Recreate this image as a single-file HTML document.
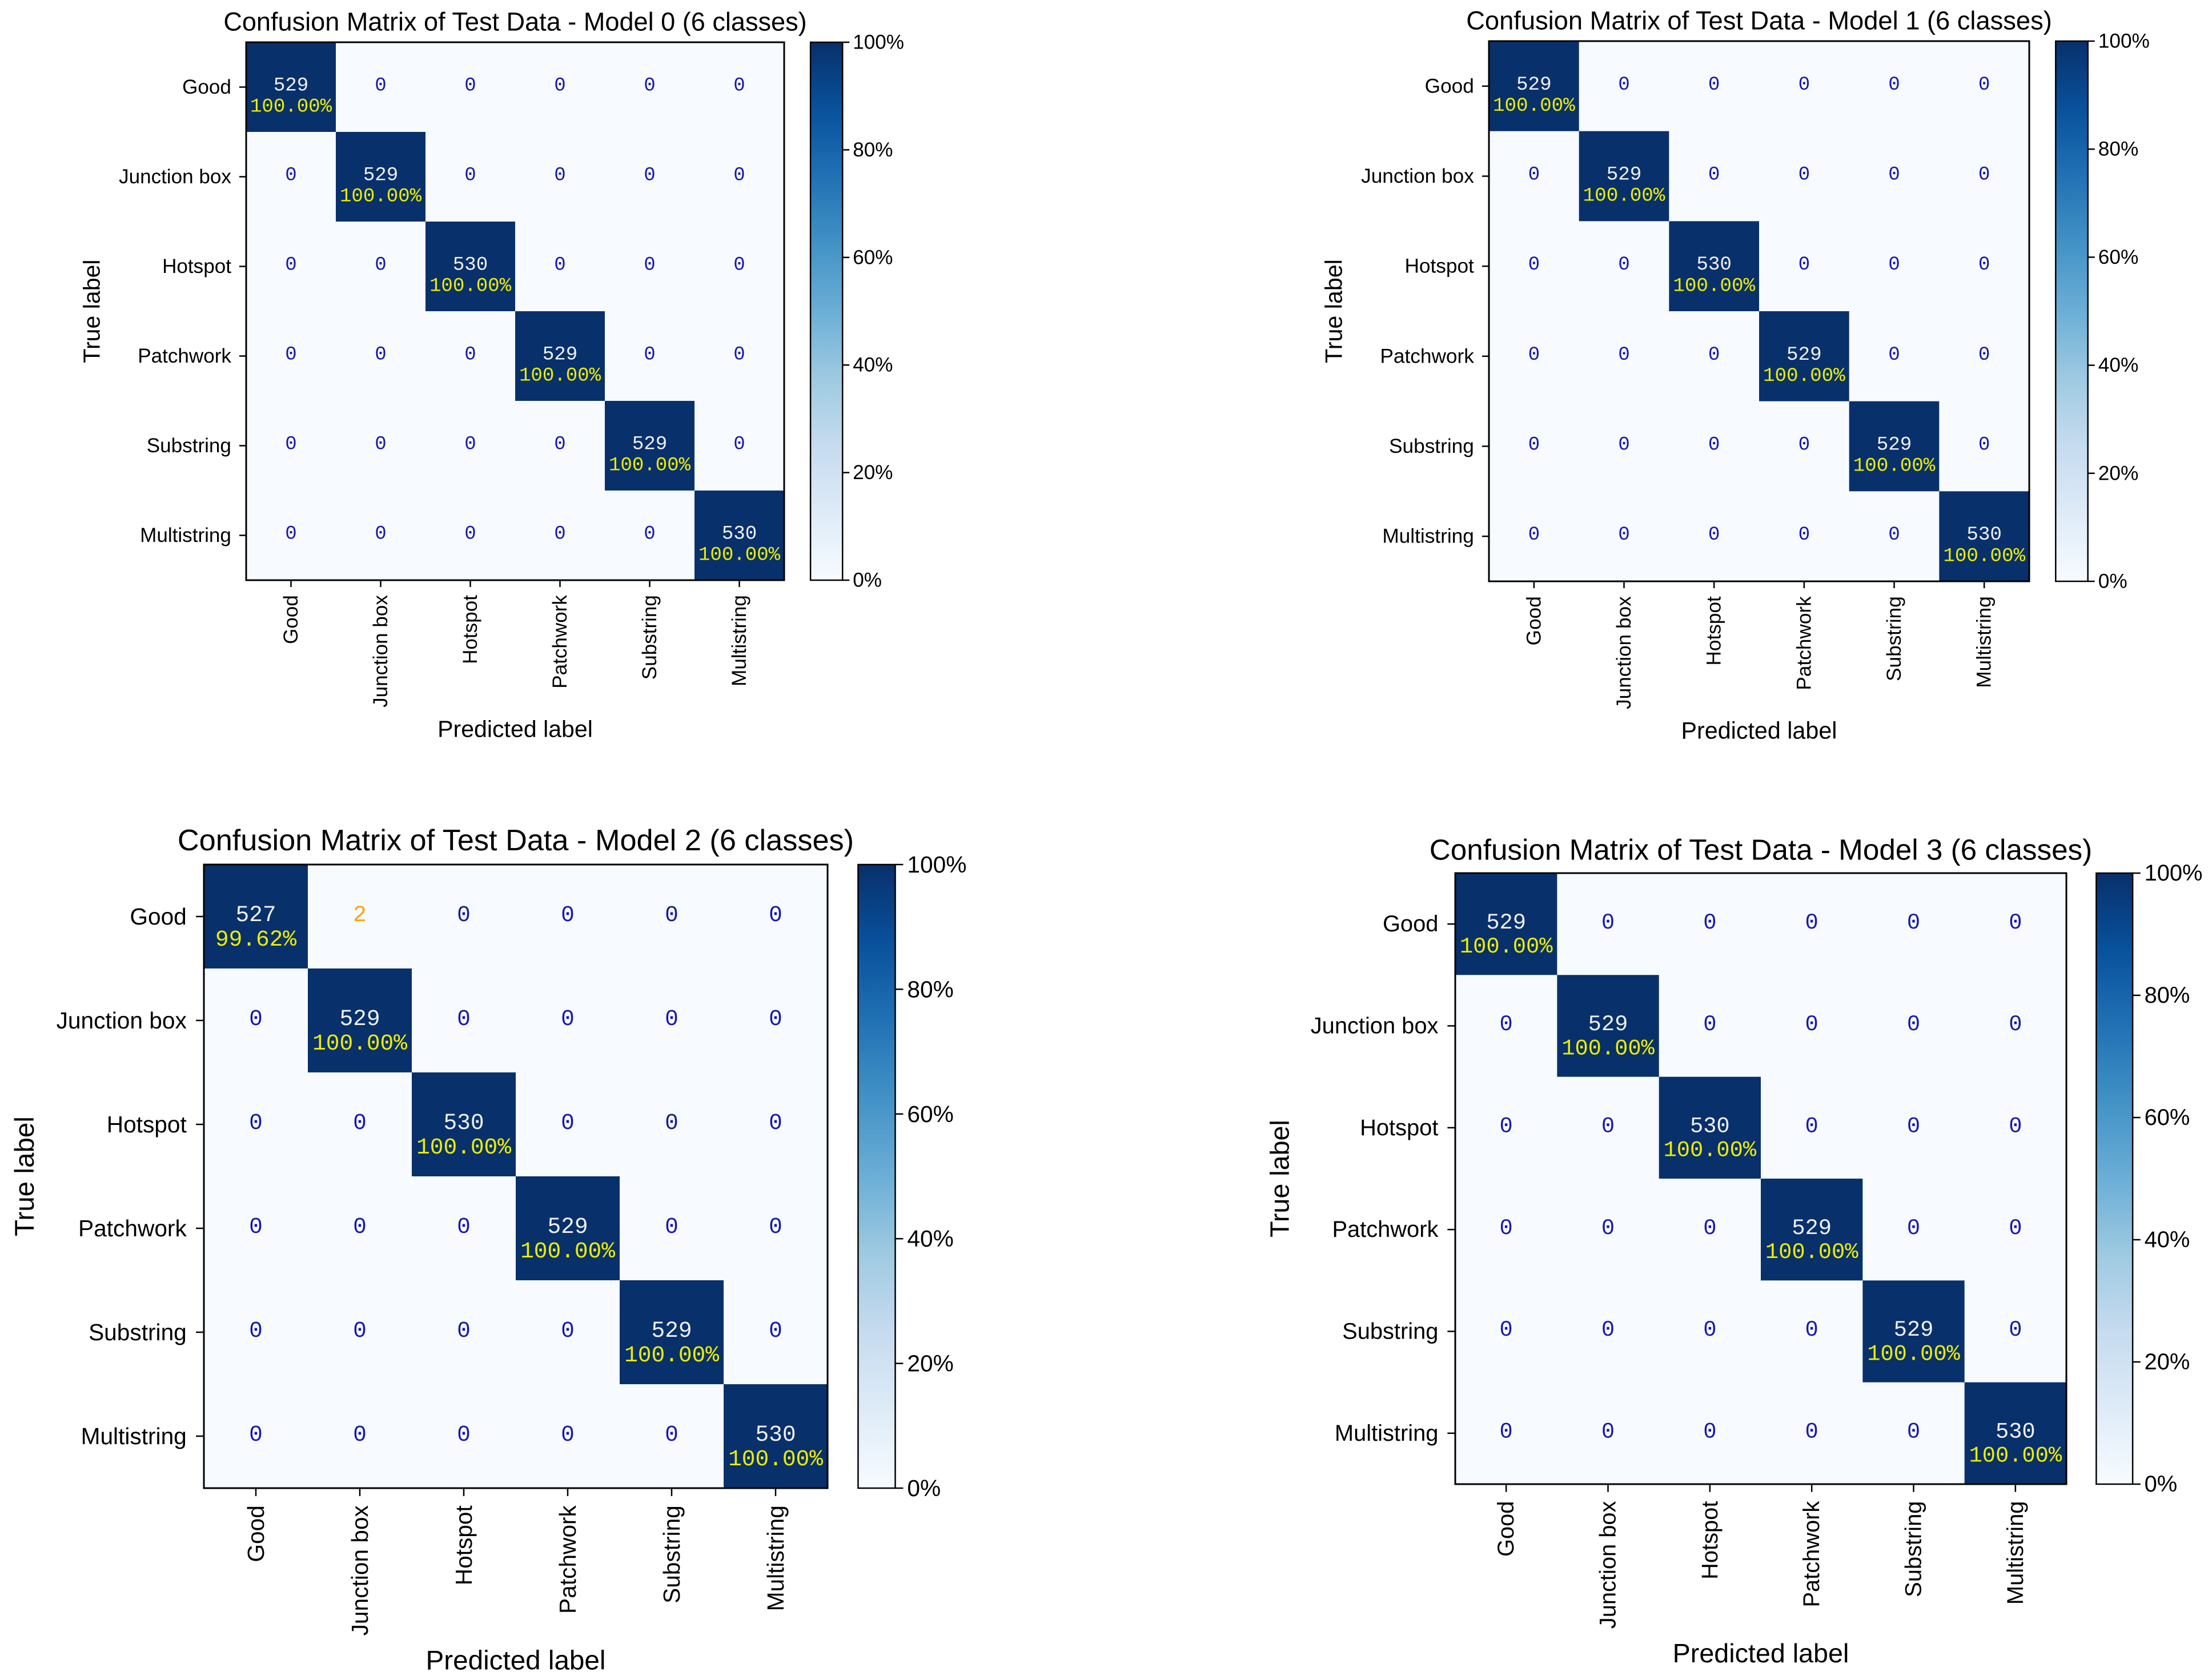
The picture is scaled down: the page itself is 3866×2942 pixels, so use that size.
<!DOCTYPE html>
<html><head><meta charset="utf-8">
<style>
html,body{margin:0;padding:0;background:#fff;}
svg{display:block;}
text{font-family:"Liberation Sans",sans-serif;}
.mono{font-family:"Liberation Mono",monospace;}
</style></head>
<body>
<svg id="fig" width="3866" height="2942" viewBox="0 0 3866 2942" xmlns="http://www.w3.org/2000/svg">
<defs>
<linearGradient id="blues" x1="0" y1="1" x2="0" y2="0">
<stop offset="0" stop-color="#f7fbff"/><stop offset="0.125" stop-color="#deebf7"/><stop offset="0.25" stop-color="#c6dbef"/><stop offset="0.375" stop-color="#9ecae1"/><stop offset="0.5" stop-color="#6baed6"/><stop offset="0.625" stop-color="#4292c6"/><stop offset="0.75" stop-color="#2171b5"/><stop offset="0.875" stop-color="#08519c"/><stop offset="1" stop-color="#08306b"/>
</linearGradient>
</defs>
</svg>
<script>
const classes = ["Good","Junction box","Hotspot","Patchwork","Substring","Multistring"];
const model0 = [[529,0,0,0,0,0],[0,529,0,0,0,0],[0,0,530,0,0,0],[0,0,0,529,0,0],[0,0,0,0,529,0],[0,0,0,0,0,530]];
const model1 = [[529,0,0,0,0,0],[0,529,0,0,0,0],[0,0,530,0,0,0],[0,0,0,529,0,0],[0,0,0,0,529,0],[0,0,0,0,0,530]];
const model2 = [[527,2,0,0,0,0],[0,529,0,0,0,0],[0,0,530,0,0,0],[0,0,0,529,0,0],[0,0,0,0,529,0],[0,0,0,0,0,530]];
const model3 = [[529,0,0,0,0,0],[0,529,0,0,0,0],[0,0,530,0,0,0],[0,0,0,529,0,0],[0,0,0,0,529,0],[0,0,0,0,0,530]];
const modelTitles = ["Confusion Matrix of Test Data - Model 0 (6 classes)","Confusion Matrix of Test Data - Model 1 (6 classes)","Confusion Matrix of Test Data - Model 2 (6 classes)","Confusion Matrix of Test Data - Model 3 (6 classes)"];
const cbTicks = [0,20,40,60,80,100];

const NS="http://www.w3.org/2000/svg";
const svg=document.getElementById('fig');
function mk(tag,attrs,parent,txt){const e=document.createElementNS(NS,tag);for(const k in attrs)e.setAttribute(k,attrs[k]);if(txt!==undefined)e.textContent=txt;parent.appendChild(e);return e;}

const panels=[
 {m:model0,L:431,T:74,S:942},
 {m:model1,L:2607,T:72,S:946},
 {m:model2,L:357,T:1514,S:1092},
 {m:model3,L:2548,T:1529,S:1070}
];

panels.forEach((p,pi)=>{
 const s=p.S/940;
 const g=mk('g',{},svg);
 
 
 const n=classes.length, cw=p.S/n;
 const xs=i=>p.L+(i+0.5)*cw, ys=i=>p.T+(i+0.5)*cw;
 const maxv=Math.max(...p.m.flat());
 const fT=45*s, fTick=35*s, fLab=41*s, fAnn=34*s;
 const t=mk('text',{x:p.L+p.S/2,y:p.T-36*s,'font-size':fT,'text-anchor':'middle','dominant-baseline':'central',fill:'#000'},g,modelTitles[pi]);
 
 
 p.m.forEach((row,r)=>{
  const rs=row.reduce((a,b)=>a+b,0);
  row.forEach((v,c)=>{
   const frac=v/maxv;
   const dark=frac>0.5;
   const rect=mk('rect',{x:xs(c)-cw/2,y:ys(r)-cw/2,width:cw+0.5,height:cw+0.5,fill:dark?'#08306b':'#f7fbff'},g);
   
   
   if(r===c){
    const a=mk('text',{x:xs(c),y:ys(r)-2*s,'font-size':fAnn,'text-anchor':'middle','dominant-baseline':'central',fill:'#f0f0f0',class:'mono'},g,String(v));
    
    
    const b=mk('text',{x:xs(c),y:ys(r)+35*s,'font-size':fAnn,'text-anchor':'middle','dominant-baseline':'central',fill:'#eded00',class:'mono'},g,(v/rs*100).toFixed(2)+'%');
    
    
   } else {
    const a=mk('text',{x:xs(c),y:ys(r)-2*s,'font-size':fAnn,'text-anchor':'middle','dominant-baseline':'central',fill:v>0?'#ffa500':'#1818a8',class:'mono'},g,String(v));
    
    
   }
  });
 });
 const fr=mk('rect',{x:p.L,y:p.T,width:p.S,height:p.S,fill:'none',stroke:'#000','stroke-width':3},g);
 
 
 classes.forEach((c,i)=>{
  mk('line',{x1:p.L-12*s,x2:p.L,y1:ys(i),y2:ys(i),stroke:'#000','stroke-width':2.5},g);
  const yl=mk('text',{x:p.L-26*s,y:ys(i),'font-size':fTick,'text-anchor':'end','dominant-baseline':'central',fill:'#000'},g,c);
  
  
  mk('line',{x1:xs(i),x2:xs(i),y1:p.T+p.S,y2:p.T+p.S+12*s,stroke:'#000','stroke-width':2.5},g);
  const bx=xs(i), by=p.T+p.S+26*s;
  const xl=mk('text',{x:bx,y:by,'font-size':fTick,'text-anchor':'end','dominant-baseline':'central',fill:'#000',transform:`rotate(-90 ${bx} ${by})`},g,c);
  
  
 });
 const yt=mk('text',{x:p.L-270*s,y:p.T+p.S/2,'font-size':fLab,'text-anchor':'middle','dominant-baseline':'central',fill:'#000',transform:`rotate(-90 ${p.L-270*s} ${p.T+p.S/2})`},g,'True label');
 
 
 const xt=mk('text',{x:p.L+p.S/2,y:p.T+p.S+260*s,'font-size':fLab,'text-anchor':'middle','dominant-baseline':'central',fill:'#000'},g,'Predicted label');
 
 
 const cx=p.L+p.S+46*s, cwid=56*s;
 const cb=mk('rect',{x:cx,y:p.T,width:cwid,height:p.S,fill:'url(#blues)',stroke:'#000','stroke-width':2.5},g);
 
 
 cbTicks.forEach(v=>{
  const y=p.T+p.S-(v/100)*p.S;
  mk('line',{x1:cx+cwid,x2:cx+cwid+12*s,y1:y,y2:y,stroke:'#000','stroke-width':2.5},g);
  const cl=mk('text',{x:cx+cwid+18*s,y:y,'font-size':fTick,'dominant-baseline':'central',fill:'#000'},g,v+'%');
  
  
 });
});
</script>
</body></html>
